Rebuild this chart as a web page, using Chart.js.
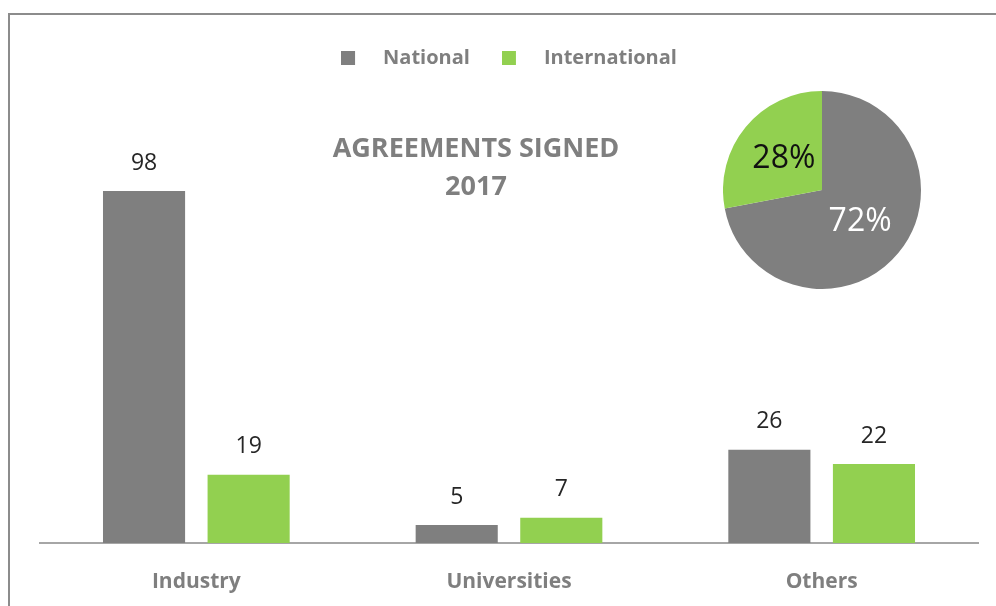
<!DOCTYPE html>
<html>
<head>
<meta charset="utf-8">
<script src="https://cdn.jsdelivr.net/npm/chart.js@4/dist/chart.umd.min.js"></script>
<style>
  html, body { margin: 0; padding: 0; background: #fff; overflow: hidden; }
  #wrap { position: relative; width: 996px; height: 606px; }
  #frame {
    position: absolute; left: 8px; top: 13px; width: 1000px; height: 600px;
    border-top: 2px solid #8c8c8c; border-left: 2px solid #8c8c8c;
  }
  #bars { position: absolute; left: 0; top: 0; }
  #pie  { position: absolute; left: 723px; top: 91px; }
</style>
</head>
<body>
<div id="wrap">
  <div id="frame"></div>
  <canvas id="bars" width="996" height="606"></canvas>
  <canvas id="pie" width="198" height="198"></canvas>
</div>
<script>
const CATEGORIES    = ['Industry', 'Universities', 'Others'];
const NATIONAL      = [98, 5, 26];
const INTERNATIONAL = [19, 7, 22];
const SERIES_NAMES  = ['National', 'International'];
const SHARE_LABELS  = ['72%', '28%'];
const SHARE_VALUES  = [72, 28];
const TITLE_LINES   = ['AGREEMENTS SIGNED', '2017'];

const GREY  = '#7f7f7f';
const GREEN = '#92d050';
const TEXT_GREY = '#7f7f7f';
const FONT = '"Open Sans"';

// legend swatch: square on the left, empty room after it
function swatch(color) {
  const c = document.createElement('canvas');
  c.width = 32;
  c.height = 14;
  const g = c.getContext('2d');
  g.fillStyle = color;
  g.fillRect(0, 0, 14, 14);
  return c;
}

const valueLabels = {
  id: 'valueLabels',
  afterDatasetsDraw(chart) {
    const ctx = chart.ctx;
    ctx.save();
    ctx.font = '23px ' + FONT;
    ctx.fillStyle = '#262626';
    ctx.textAlign = 'center';
    ctx.textBaseline = 'middle';
    chart.data.datasets.forEach((ds, i) => {
      chart.getDatasetMeta(i).data.forEach((bar, j) => {
        ctx.fillText(String(ds.data[j]), bar.x, bar.y - 28);
      });
    });
    ctx.restore();
  }
};

const centerTitle = {
  id: 'centerTitle',
  afterDraw(chart) {
    const ctx = chart.ctx;
    ctx.save();
    ctx.font = 'bold 27px ' + FONT;
    ctx.fillStyle = TEXT_GREY;
    ctx.textAlign = 'center';
    ctx.textBaseline = 'middle';
    ctx.fillText(TITLE_LINES[0], 476, 149);
    ctx.fillText(TITLE_LINES[1], 476, 187);
    ctx.restore();
  }
};

new Chart(document.getElementById('bars').getContext('2d'), {
  type: 'bar',
  data: {
    labels: CATEGORIES,
    datasets: [
      { label: SERIES_NAMES[0], data: NATIONAL, backgroundColor: GREY },
      { label: SERIES_NAMES[1], data: INTERNATIONAL, backgroundColor: GREEN }
    ]
  },
  options: {
    responsive: false,
    animation: false,
    categoryPercentage: 0.669,
    barPercentage: 0.785,
    layout: { padding: { left: 40, right: 18, top: 16, bottom: 0 } },
    plugins: {
      tooltip: { enabled: false },
      legend: {
        position: 'top',
        labels: {
          usePointStyle: true,
          pointStyleWidth: 32,
          padding: 32,
          color: TEXT_GREY,
          font: { family: FONT, size: 20, weight: 'bold' },
          generateLabels(chart) {
            const items = Chart.defaults.plugins.legend.labels.generateLabels(chart);
            items.forEach((it, i) => { it.pointStyle = swatch(i === 0 ? GREY : GREEN); });
            return items;
          }
        }
      }
    },
    scales: {
      x: {
        grid: { display: false, drawTicks: false },
        border: { color: '#a6a6a6', width: 2 },
        ticks: {
          color: TEXT_GREY,
          padding: 26,
          font: { family: FONT, size: 21, weight: 'bold' }
        },
        afterFit(scale) { scale.height = 63; }
      },
      y: { display: false, min: 0, max: 129.5 }
    }
  },
  plugins: [valueLabels, centerTitle]
});

const pieLabels = {
  id: 'pieLabels',
  afterDatasetsDraw(chart) {
    const ctx = chart.ctx;
    ctx.save();
    ctx.font = '32px ' + FONT;
    ctx.textAlign = 'center';
    ctx.textBaseline = 'middle';
    chart.getDatasetMeta(0).data.forEach((arc, i) => {
      const p = arc.getCenterPoint();
      ctx.fillStyle = i === 0 ? '#ffffff' : '#111111';
      ctx.fillText(SHARE_LABELS[i], p.x, p.y);
    });
    ctx.restore();
  }
};

new Chart(document.getElementById('pie').getContext('2d'), {
  type: 'pie',
  data: {
    labels: SERIES_NAMES,
    datasets: [{ data: SHARE_VALUES, backgroundColor: [GREY, GREEN], borderWidth: 0 }]
  },
  options: {
    responsive: false,
    animation: false,
    plugins: { legend: { display: false }, tooltip: { enabled: false } }
  },
  plugins: [pieLabels]
});
</script>
</body>
</html>
